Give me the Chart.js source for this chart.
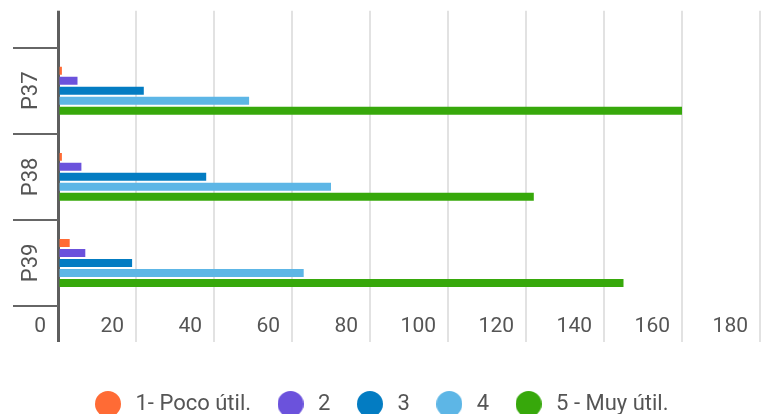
<!DOCTYPE html>
<html>
<head>
<meta charset="utf-8">
<script src="https://cdn.jsdelivr.net/npm/chart.js@4.4.1/dist/chart.umd.min.js"></script>
<style>
  html, body { margin: 0; padding: 0; background: #ffffff; }
  canvas { display: block; }
</style>
</head>
<body>
<canvas id="chart" width="761" height="414"></canvas>
<script>
// Survey questions (one band each)
const questions = ['P37', 'P38', 'P39'];

// Answer counts per rating, in question order
const seriesNames = ['1- Poco útil.', '2', '3', '4', '5 - Muy útil.'];
const rating1 = [1, 1, 3];
const rating2 = [5, 6, 7];
const rating3 = [22, 38, 19];
const rating4 = [49, 70, 63];
const rating5 = [160, 122, 145];

// Value axis ticks
const xTickValues = [0, 20, 40, 60, 80, 100, 120, 140, 160, 180];

const seriesColors = ['#ff6b35', '#6b52dc', '#037cc2', '#5db6e6', '#37a80b'];
const seriesData = [rating1, rating2, rating3, rating4, rating5];

const textColor = '#555555';
const axisLineColor = '#5e5e5e';
const gridLineColor = '#e2e2e2';

Chart.defaults.font.family = 'Roboto';
Chart.defaults.color = textColor;

// Round legend swatch, a little larger than the default point style
function legendDot(color) {
  const size = 26;
  const c = document.createElement('canvas');
  c.width = size;
  c.height = size;
  const g = c.getContext('2d');
  g.fillStyle = color;
  g.beginPath();
  g.arc(size / 2, size / 2, size / 2, 0, Math.PI * 2);
  g.fill();
  return c;
}

// Zero line is the dark axis, the rest are light grid lines
const gridColor = ctx => (ctx.tick && ctx.tick.value === 0 ? axisLineColor : gridLineColor);
const gridWidth = ctx => (ctx.tick && ctx.tick.value === 0 ? 3 : 2);
const useTickValues = scale => { scale.ticks = xTickValues.map(v => ({ value: v })); };

new Chart(document.getElementById('chart'), {
  type: 'bar',
  data: {
    labels: questions,
    datasets: seriesNames.map((name, i) => ({
      label: name,
      data: seriesData[i],
      backgroundColor: seriesColors[i],
      pointStyle: legendDot(seriesColors[i]),
      borderWidth: 0,
      barPercentage: 0.8,
      categoryPercentage: 0.58
    }))
  },
  options: {
    indexAxis: 'y',
    responsive: false,
    animation: false,
    devicePixelRatio: 1,
    layout: { padding: { top: 10.7, bottom: -11, left: 0, right: 1 } },
    scales: {
      x: {
        position: 'bottom',
        min: xTickValues[0],
        max: xTickValues[xTickValues.length - 1],
        afterBuildTicks: useTickValues,
        afterFit: scale => { scale.height = 64; },
        border: { display: false },
        grid: { color: gridColor, lineWidth: gridWidth, tickLength: 36 },
        ticks: {
          align: 'end',
          labelOffset: -12,
          padding: -27.6,
          autoSkip: false,
          maxRotation: 0,
          color: textColor,
          font: { size: 21 }
        }
      },
      xTop: {
        position: 'top',
        axis: 'x',
        min: xTickValues[0],
        max: xTickValues[xTickValues.length - 1],
        afterBuildTicks: useTickValues,
        border: { display: false },
        grid: { color: gridColor, lineWidth: gridWidth, tickLength: 37, drawOnChartArea: false },
        ticks: { display: false }
      },
      y: {
        afterFit: scale => { scale.width = 58; },
        border: { display: false },
        grid: { drawOnChartArea: false, color: '#666666', lineWidth: 2, tickLength: 45, offset: true },
        ticks: {
          minRotation: 90,
          maxRotation: 90,
          crossAlign: 'center',
          padding: -37.8,
          autoSkip: false,
          color: textColor,
          font: { size: 22 }
        }
      }
    },
    plugins: {
      tooltip: { enabled: false },
      legend: {
        position: 'bottom',
        labels: {
          usePointStyle: true,
          pointStyleWidth: 33,
          padding: 23,
          color: textColor,
          font: { size: 22 }
        }
      }
    }
  }
});
</script>
</body>
</html>
